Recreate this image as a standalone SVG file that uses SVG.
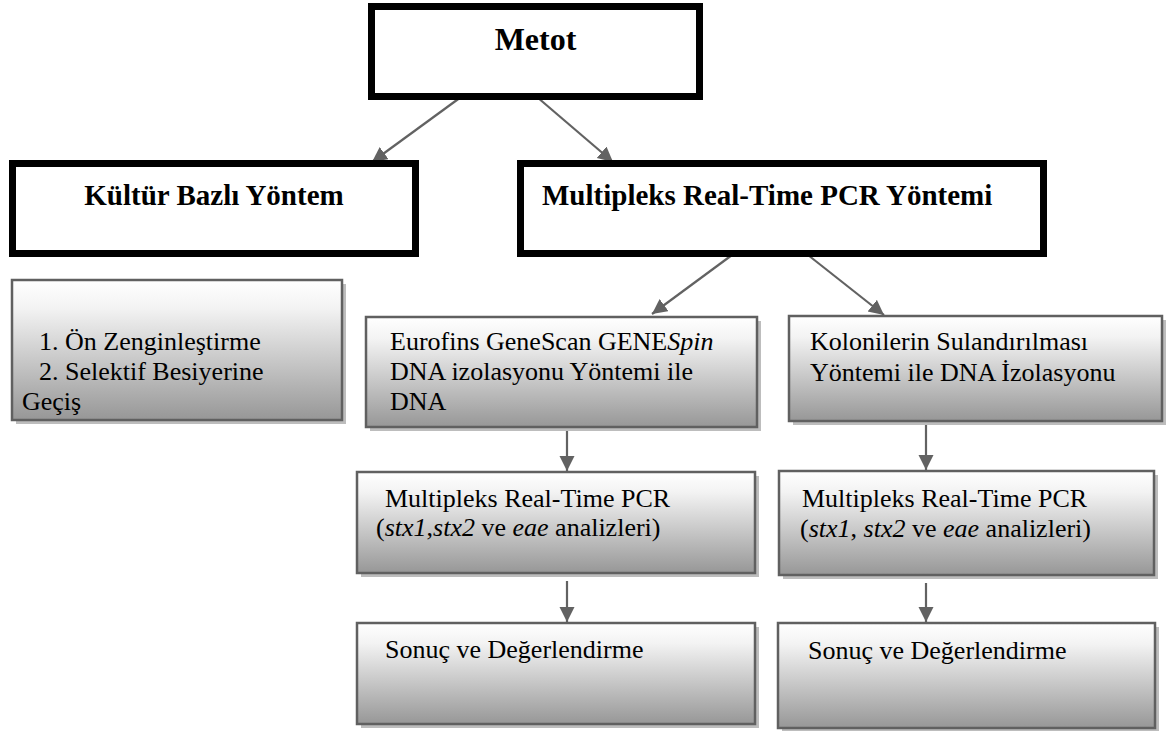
<svg xmlns="http://www.w3.org/2000/svg" width="1170" height="731" viewBox="0 0 1170 731">
  <defs>
    <linearGradient id="grad" x1="0" y1="0" x2="0" y2="1">
      <stop offset="0" stop-color="#ffffff"/>
      <stop offset="0.2" stop-color="#f3f3f3"/>
      <stop offset="1" stop-color="#979797"/>
    </linearGradient>
    <marker id="arr" markerUnits="userSpaceOnUse" markerWidth="18" markerHeight="18" refX="15" refY="7.5" orient="auto">
      <path d="M0,0 L15,7.5 L0,15 Z" fill="#626262"/>
    </marker>
    <style>
      .thick { fill: #ffffff; stroke: #000000; stroke-width: 7; }
      .shadow { fill: #bdbdbd; }
      .gbox { fill: url(#grad); stroke: #606060; stroke-width: 2.5; }
      text { font-family: 'Liberation Serif', 'DejaVu Serif', serif; fill: #000; }
      .bold { font-weight: bold; }
      .reg { font-size: 26px; }
      .conn { stroke: #626262; stroke-width: 2.2; fill: none; marker-end: url(#arr); }
    </style>
  </defs>
  <rect width="1170" height="731" fill="#ffffff"/>

  <g id="connectors">
    <line class="conn" x1="461" y1="97" x2="372" y2="162"/>
    <line class="conn" x1="537" y1="97" x2="613" y2="162"/>
    <line class="conn" x1="732" y1="255" x2="652" y2="314"/>
    <line class="conn" x1="808" y1="255" x2="884" y2="315"/>
    <line class="conn" x1="567" y1="429" x2="567" y2="471"/>
    <line class="conn" x1="567" y1="581" x2="567" y2="622"/>
    <line class="conn" x1="926" y1="423" x2="926" y2="470"/>
    <line class="conn" x1="926" y1="583" x2="926" y2="622"/>
  </g>

  <g id="node-metot" font-family="Liberation Serif, serif">
    <rect class="thick" x="371.5" y="6.5" width="328" height="90"/>
    <text class="bold" font-family="Liberation Serif, serif" x="535.5" y="50" font-size="32" text-anchor="middle">Metot</text>
  </g>

  <g id="node-kultur" font-family="Liberation Serif, serif">
    <rect class="thick" x="12.5" y="163.5" width="403" height="90"/>
    <text class="bold" x="214" y="205" font-size="29" text-anchor="middle">Kültür Bazlı Yöntem</text>
  </g>

  <g id="node-multipleks" font-family="Liberation Serif, serif">
    <rect class="thick" x="520.5" y="163.5" width="523" height="90"/>
    <text class="bold" x="542" y="205" font-size="29">Multipleks Real-Time PCR Yöntemi</text>
  </g>

  <g id="node-zenginlestirme" font-family="Liberation Serif, serif">
    <rect class="shadow" x="16" y="284" width="330" height="140"/>
    <rect class="gbox" x="12" y="280" width="330" height="140"/>
    <text class="reg" x="39" y="350">1. Ön Zenginleştirme</text>
    <text class="reg" x="39" y="380">2. Selektif Besiyerine</text>
    <text class="reg" x="22" y="410">Geçiş</text>
  </g>

  <g id="node-eurofins" font-family="Liberation Serif, serif">
    <rect class="shadow" x="370" y="321" width="391" height="110"/>
    <rect class="gbox" x="366" y="317" width="391" height="110"/>
    <text class="reg" x="390" y="350">Eurofins GeneScan GENE<tspan font-style="italic">Spin</tspan></text>
    <text class="reg" x="390" y="380">DNA izolasyonu  Yöntemi ile</text>
    <text class="reg" x="390" y="410">DNA</text>
  </g>

  <g id="node-kolonilerin" font-family="Liberation Serif, serif">
    <rect class="shadow" x="793" y="320" width="373" height="105"/>
    <rect class="gbox" x="789" y="316" width="373" height="105"/>
    <text class="reg" x="810" y="350">Kolonilerin Sulandırılması</text>
    <text class="reg" x="810" y="381">Yöntemi ile DNA İzolasyonu</text>
  </g>

  <g id="node-pcr-left" font-family="Liberation Serif, serif">
    <rect class="shadow" x="361" y="476" width="398" height="101"/>
    <rect class="gbox" x="357" y="472" width="398" height="101"/>
    <text class="reg" x="385" y="507">Multipleks Real-Time PCR</text>
    <text class="reg" x="376" y="536">(<tspan font-style="italic">stx1</tspan>,<tspan font-style="italic">stx2</tspan> ve <tspan font-style="italic">eae</tspan> analizleri)</text>
  </g>

  <g id="node-pcr-right" font-family="Liberation Serif, serif">
    <rect class="shadow" x="783" y="475" width="375" height="104"/>
    <rect class="gbox" x="779" y="471" width="375" height="104"/>
    <text class="reg" x="802" y="507">Multipleks Real-Time PCR</text>
    <text class="reg" x="800" y="537">(<tspan font-style="italic">stx1</tspan>, <tspan font-style="italic">stx2</tspan> ve <tspan font-style="italic">eae</tspan> analizleri)</text>
  </g>

  <g id="node-sonuc-left" font-family="Liberation Serif, serif">
    <rect class="shadow" x="361" y="627" width="398" height="101"/>
    <rect class="gbox" x="357" y="623" width="398" height="101"/>
    <text class="reg" x="385" y="658">Sonuç ve Değerlendirme</text>
  </g>

  <g id="node-sonuc-right" font-family="Liberation Serif, serif">
    <rect class="shadow" x="782" y="627" width="377" height="105"/>
    <rect class="gbox" x="778" y="623" width="377" height="105"/>
    <text class="reg" x="808" y="659">Sonuç ve Değerlendirme</text>
  </g>
</svg>
